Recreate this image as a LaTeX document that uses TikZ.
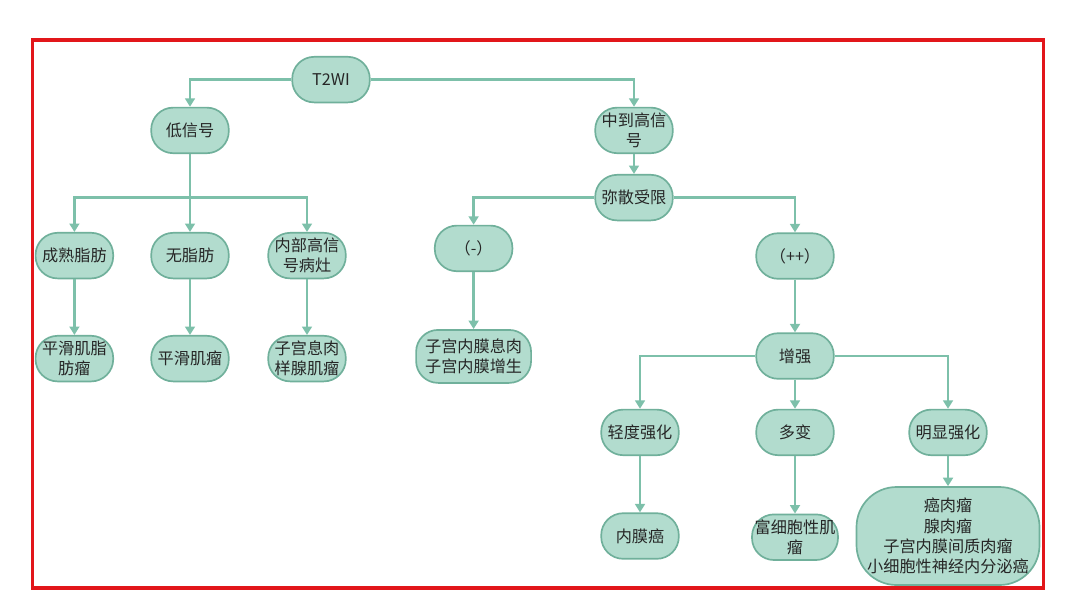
\documentclass[tikz,border=0pt]{standalone}
\usepackage{fontspec}
\setmainfont{Noto Sans CJK SC}
\usetikzlibrary{arrows.meta}
\definecolor{boxfill}{RGB}{178,220,206}
\definecolor{boxdraw}{RGB}{112,176,155}
\definecolor{linkcol}{RGB}{125,192,170}
\definecolor{framered}{RGB}{226,22,26}

\begin{document}
\begin{tikzpicture}[>={Triangle[length=6pt,width=7pt]}, node distance=2.5cm,
    block/.style={rectangle, draw=boxdraw, line width=1.2pt, fill=boxfill, align=center, rounded corners=0.55cm, minimum width=1.94cm, minimum height=1.14cm, inner sep=1pt, text=black!85, font=\fontsize{11.5}{14.5}\selectfont},
    line/.style={draw=linkcol, ->, line width=1.6pt}]

    \useasboundingbox (0,0) rectangle (27,-15.2);
    \draw [framered, line width=2.2pt] (0.82,-1.0) rectangle (26.08,-14.7);

    % root and first level
    \node [block] (t2wi) at (8.275,-1.99) {T2WI};
    \node [block] (low) at (4.75,-3.26) {低信号};
    \node [block] (mid) at (15.85,-3.26) {中到高信\\号};
    \node [block, below of=mid, node distance=1.68cm] (diff) {弥散受限};

    % low signal
    \node [block, below of=low, node distance=3.13cm] (nofat) {无脂肪};
    \node [block, left of=nofat, node distance=2.89cm] (fat) {成熟脂肪};
    \node [block, right of=nofat, node distance=2.925cm] (inner) {内部高信\\号病灶};
    \node [block, below of=fat, node distance=2.575cm] (aml) {平滑肌脂\\肪瘤};
    \node [block, below of=nofat, node distance=2.575cm] (leio) {平滑肌瘤};
    \node [block, below of=inner, node distance=2.575cm] (adeno) {子宫息肉\\样腺肌瘤};
    \coordinate [below of=low, node distance=1.68cm] (lowsplit);

    % restricted diffusion
    \node [block] (neg) at (11.84,-6.21) {（-）};
    \node [block] (pos) at (19.875,-6.4) {（++）};
    \node [block, below of=neg, node distance=2.7cm, minimum width=2.875cm, minimum height=1.325cm] (polyp) {子宫内膜息肉\\子宫内膜增生};
    \node [block, below of=pos, node distance=2.5cm] (enh) {增强};
    \node [block, below of=enh, node distance=1.91cm] (var) {多变};
    \node [block, left of=var, node distance=3.875cm] (mild) {轻度强化};
    \node [block, right of=var, node distance=3.825cm] (mark) {明显强化};
    \node [block, below of=mild, node distance=2.59cm] (endo) {内膜癌};
    \node [block, below of=var, node distance=2.62cm, minimum width=2.15cm] (cell) {富细胞性肌\\瘤};
    \node [block, below of=mark, node distance=2.59cm, minimum width=4.575cm, minimum height=2.45cm, rounded corners=1cm] (malig) {癌肉瘤\\腺肉瘤\\子宫内膜间质肉瘤\\小细胞性神经内分泌癌};

    \path [line] (t2wi.west) -| (low);
    \path [line] (t2wi.east) -| (mid);
    \path [line] (low) -- (nofat);
    \path [line] (lowsplit) -| (fat);
    \path [line] (lowsplit) -| (inner);
    \path [line] (fat) -- (aml);
    \path [line] (nofat) -- (leio);
    \path [line] (inner) -- (adeno);

    \path [line] (mid) -- (diff);
    \path [line] (diff.west) -| (neg);
    \path [line] (diff.east) -| (pos);
    \path [line] (neg) -- (polyp);
    \path [line] (pos) -- (enh);
    \path [line] (enh.west) -| (mild);
    \path [line] (enh.east) -| (mark);
    \path [line] (enh) -- (var);
    \path [line] (mild) -- (endo);
    \path [line] (var) -- (cell);
    \path [line] (mark) -- (malig);
\end{tikzpicture}
\end{document}
